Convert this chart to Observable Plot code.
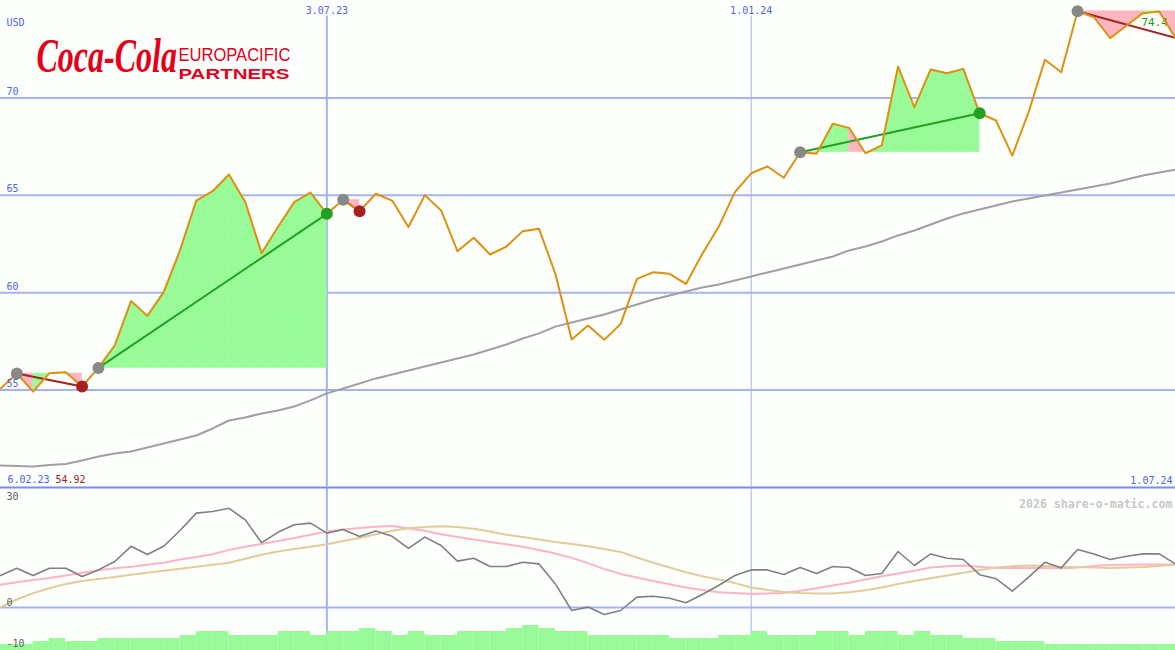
<!DOCTYPE html>
<html><head><meta charset="utf-8">
<script src="https://cdn.jsdelivr.net/npm/d3@7"></script>
<script src="https://cdn.jsdelivr.net/npm/@observablehq/plot@0.6"></script>
<style>
html,body{margin:0;padding:0;background:#fcfffc;overflow:hidden}
#chart{position:relative;width:1175px;height:650px;background:#fcfffc}
#chart svg{position:absolute;left:0}
</style></head><body><div id="chart"></div>
<script>
// ---- data ----
const weekStrings = [
"2023-02-13","2023-02-20","2023-02-27","2023-03-06","2023-03-13","2023-03-20","2023-03-27","2023-04-03","2023-04-10","2023-04-17",
"2023-04-24","2023-05-01","2023-05-08","2023-05-15","2023-05-22","2023-05-29","2023-06-05","2023-06-12","2023-06-19","2023-06-26",
"2023-07-03","2023-07-10","2023-07-17","2023-07-24","2023-07-31","2023-08-07","2023-08-14","2023-08-21","2023-08-28","2023-09-04",
"2023-09-11","2023-09-18","2023-09-25","2023-10-02","2023-10-09","2023-10-16","2023-10-23","2023-10-30","2023-11-06","2023-11-13",
"2023-11-20","2023-11-27","2023-12-04","2023-12-11","2023-12-18","2023-12-25","2024-01-01","2024-01-08","2024-01-15","2024-01-22",
"2024-01-29","2024-02-05","2024-02-12","2024-02-19","2024-02-26","2024-03-04","2024-03-11","2024-03-18","2024-03-25","2024-04-01",
"2024-04-08","2024-04-15","2024-04-22","2024-04-29","2024-05-06","2024-05-13","2024-05-20","2024-05-27","2024-06-03","2024-06-10",
"2024-06-17","2024-06-24","2024-07-01"];
const price = [55.08,55.85,54.92,55.87,55.92,55.19,56.14,57.29,59.57,58.81,
60.03,62.17,64.73,65.21,66.07,64.65,62.03,63.37,64.65,65.14,
64.05,64.77,64.18,65.08,64.73,63.37,65.01,64.22,62.13,62.82,
61.96,62.37,63.16,63.28,60.97,57.60,58.32,57.58,58.40,60.71,
61.05,60.97,60.45,61.99,63.37,65.16,66.13,66.48,65.90,67.21,
67.13,68.67,68.46,67.16,67.56,71.61,69.52,71.46,71.27,71.49,
69.21,68.84,67.04,69.27,71.96,71.32,74.45,74.14,73.07,73.72,
74.35,74.44,73.08];
const movingAvg = [51.13,51.10,51.08,51.15,51.21,51.39,51.59,51.75,51.85,52.05,
52.26,52.46,52.67,53.03,53.44,53.59,53.80,53.95,54.16,54.47,
54.83,55.08,55.34,55.60,55.80,56.01,56.21,56.42,56.62,56.83,
57.08,57.34,57.65,57.91,58.26,58.47,58.68,58.88,59.14,59.39,
59.65,59.86,60.06,60.27,60.42,60.63,60.83,61.04,61.24,61.45,
61.65,61.86,62.17,62.37,62.63,62.94,63.19,63.50,63.81,64.07,
64.27,64.48,64.68,64.84,64.99,65.14,65.30,65.45,65.61,65.81,
66.02,66.17,66.32];
const oscillator = [8.0,9.8,8.0,9.8,9.8,7.75,9.4,11.5,15.3,13.25,
15.3,19.25,23.6,24.0,24.8,21.9,16.2,18.8,20.7,21.1,
18.6,19.5,17.75,19.1,17.8,14.8,17.6,15.5,11.6,12.3,
10.25,10.25,11.3,10.9,5.9,-0.75,0.1,-1.75,-0.75,2.6,
2.8,2.3,1.2,3.25,5.5,8.0,9.4,9.4,8.25,10.0,
8.5,10.25,10.0,8.0,8.5,14.0,10.5,13.4,12.3,12.0,
8.2,7.2,4.1,7.6,11.3,9.9,14.5,13.4,12.0,12.8,
13.4,13.4,10.9];
const signalFast = [5.7,6.3,6.9,7.4,8.0,8.7,9.3,9.8,10.2,10.7,
11.2,12.0,12.6,13.3,14.4,15.2,15.9,16.6,17.4,18.2,
19.0,19.5,19.9,20.2,20.4,19.8,19.2,18.3,17.6,17.0,
16.4,15.8,15.2,14.4,13.5,12.4,11.1,9.6,8.4,7.5,
6.6,5.8,5.0,4.4,3.8,3.6,3.4,3.5,3.6,4.2,
4.8,5.5,6.2,7.0,7.8,8.5,9.2,10.0,10.3,10.5,
10.2,9.9,9.9,9.9,9.9,9.8,10.0,10.4,10.6,10.7,
10.75,10.75,10.75];
const signalSlow = [0.1,2.0,3.6,4.8,5.9,6.6,7.1,7.6,8.2,8.7,
9.2,9.7,10.2,10.7,11.2,12.2,13.2,14.0,14.6,15.2,
15.8,16.6,17.4,18.3,19.2,19.8,20.1,20.3,20.1,19.7,
19.0,18.2,17.6,17.0,16.4,15.9,15.3,14.6,13.9,12.5,
11.2,10.0,8.8,7.8,7.0,6.1,5.0,4.4,3.9,3.6,
3.5,3.5,3.8,4.3,5.0,5.9,6.6,7.3,8.0,8.7,
9.4,10.0,10.3,10.5,10.4,10.2,10.1,10.0,9.9,10.0,
10.1,10.4,10.75];
const volume = [1.5,1.5,2.25,3.0,2.25,2.25,3.0,3.0,3.0,3.0,
3.0,3.75,4.75,4.75,3.75,3.75,3.75,4.75,4.75,3.75,
4.75,4.75,5.5,4.75,3.75,4.75,3.75,3.75,4.75,4.75,
4.75,5.5,6.25,5.5,4.75,4.75,3.75,3.75,3.75,3.75,
3.75,3.0,3.0,3.0,3.75,3.75,4.75,3.75,3.75,3.75,
4.75,4.75,3.75,4.75,4.75,3.75,4.75,3.75,3.75,3.0,
3.0,2.25,2.25,2.25,1.5,1.5,1.5,1.5,1.5,1.5,
1.5,1.5];
const yTicks = [55, 60, 65, 70];
const xTickStrings = ["2023-07-03", "2024-01-01"];
const xTickLabels = ["3.07.23", "1.01.24"];
const lowerTicks = [30, 0, -10];
const patterns = [
  {start: 1, end: 5, dir: "down", open: false},
  {start: 6, end: 20, dir: "up", open: false},
  {start: 21, end: 22, dir: "down", open: false},
  {start: 49, end: 60, dir: "up", open: false},
  {start: 66, end: 72, dir: "down", open: true}
];
const pinkIntervals = [1, 4, 21, 49, 52, 66, 67, 68, 69, 71];
const unitLabel = "USD";
const startLabel = "6.02.23";
const lowLabel = "54.92";
const endLabel = "1.07.24";
const highLabel = "74.4";
const credit = "2026 share-o-matic.com";
const logoText = ["Coca-Cola", "EUROPACIFIC", "PARTNERS"];

// ---- build ----
const weeks = weekStrings.map(s => new Date(s));
const xTicks = xTickStrings.map(s => new Date(s));
const rows = weeks.map((d, i) => ({date: d, price: price[i], ma: movingAvg[i], osc: oscillator[i], fast: signalFast[i], slow: signalSlow[i]}));
const fillRows = [];
patterns.forEach(p => {
  const level = price[p.start];
  for (let i = p.start; i < p.end; i++) {
    const dir = pinkIntervals.includes(i) ? "down" : "up";
    fillRows.push({x: weeks[i], lo: level, hi: price[i], seg: i, dir});
    fillRows.push({x: weeks[i + 1], lo: level, hi: price[i + 1], seg: i, dir});
  }
});
const volRows = volume.map((v, i) => ({x1: weeks[i], x2: weeks[i + 1], v}));
const BASE = -10.75;

const BLUE = "#4f63ee", GRID = "#a4b4f2", RED = "#e4001b";
const xScale = {type: "utc", domain: [weeks[0], weeks[weeks.length - 1]], axis: null};
const mono = "DejaVu Sans Mono";

const topPlot = Plot.plot({
  width: 1175, height: 487, marginTop: 0, marginBottom: 0, marginLeft: 0, marginRight: 0,
  x: xScale,
  y: {domain: [50, 75], axis: null},
  color: {domain: ["up", "down"], range: ["#98fb98", "#ffb6c1"]},
  style: {background: "transparent", fontFamily: mono, fontSize: "10px", overflow: "visible"},
  marks: [
    Plot.ruleY(yTicks, {stroke: GRID, strokeWidth: 2}),
    Plot.ruleX([xTicks[0]], {y1: 74.2, y2: 50, stroke: GRID, strokeWidth: 2}),
    Plot.ruleX([xTicks[1]], {y1: 74.2, y2: 50, stroke: GRID, strokeWidth: 1}),
    Plot.line(rows, {x: "date", y: "ma", stroke: "#a0a0a0", strokeWidth: 2}),
    Plot.areaY(fillRows, {x: "x", y1: "lo", y2: "hi", z: "seg", fill: "dir", stroke: "dir", strokeWidth: 0.5}),
    Plot.text([highLabel], {frameAnchor: "top-right", dx: -34, dy: 25, textAnchor: "start", lineAnchor: "bottom", fill: "#229922", fontSize: 11}),
    Plot.link(patterns.filter(p => p.dir === "up"), {x1: p => weeks[p.start], y1: p => price[p.start], x2: p => weeks[p.end], y2: p => price[p.end], stroke: "#22a022", strokeWidth: 2}),
    Plot.link(patterns.filter(p => p.dir === "down"), {x1: p => weeks[p.start], y1: p => price[p.start], x2: p => weeks[p.end], y2: p => price[p.end], stroke: "#a82020", strokeWidth: 2}),
    Plot.line(rows, {x: "date", y: "price", stroke: "#e09010", strokeWidth: 2}),
    Plot.dot(patterns, {x: p => weeks[p.start], y: p => price[p.start], r: 6, fill: "#888888"}),
    Plot.dot(patterns.filter(p => !p.open && p.dir === "up"), {x: p => weeks[p.end], y: p => price[p.end], r: 6, fill: "#22a022"}),
    Plot.dot(patterns.filter(p => !p.open && p.dir === "down"), {x: p => weeks[p.end], y: p => price[p.end], r: 6, fill: "#a82020"}),
    Plot.text(yTicks, {x: () => weeks[0], y: d => d, text: d => String(d), dx: 6, dy: -3, textAnchor: "start", lineAnchor: "bottom", fill: BLUE}),
    Plot.text([unitLabel], {frameAnchor: "top-left", dx: 6, dy: 25, textAnchor: "start", lineAnchor: "bottom", fill: BLUE}),
    Plot.text(xTicks, {x: d => d, text: (d, i) => xTickLabels[i], frameAnchor: "top", dy: 13, lineAnchor: "bottom", fill: BLUE}),
    Plot.text([startLabel], {frameAnchor: "bottom-left", dx: 7, dy: -5, textAnchor: "start", lineAnchor: "bottom", fill: BLUE}),
    Plot.text([lowLabel], {frameAnchor: "bottom-left", dx: 55, dy: -5, textAnchor: "start", lineAnchor: "bottom", fill: "#a82020"}),
    Plot.text([endLabel], {frameAnchor: "bottom-right", dx: -3, dy: -4, textAnchor: "end", lineAnchor: "bottom", fill: BLUE}),
    Plot.text([logoText[0]], {frameAnchor: "top-left", dx: 36, dy: 71, textAnchor: "start", lineAnchor: "bottom", fill: RED, fontFamily: "Liberation Serif", fontStyle: "italic", fontWeight: "bold", fontSize: 32}),
    Plot.text([logoText[1]], {frameAnchor: "top-left", dx: 178, dy: 60, textAnchor: "start", lineAnchor: "bottom", fill: RED, fontFamily: "Liberation Sans", fontSize: 18}),
    Plot.text([logoText[2]], {frameAnchor: "top-left", dx: 178, dy: 78, textAnchor: "start", lineAnchor: "bottom", fill: RED, fontFamily: "Liberation Sans", fontWeight: "bold", fontSize: 15.5})
  ]
});

const lowerOffsets = {"30": 12, "0": -2, "-10": -1};
const bottomPlot = Plot.plot({
  width: 1175, height: 170, marginTop: 7, marginBottom: 0, marginLeft: 0, marginRight: 0,
  x: xScale,
  y: {domain: [BASE, 30], axis: null},
  style: {background: "transparent", fontFamily: mono, fontSize: "10px", overflow: "visible"},
  marks: [
    Plot.ruleX([xTicks[0]], {y1: 30, y2: BASE, stroke: GRID, strokeWidth: 2}),
    Plot.ruleX([xTicks[1]], {y1: 30, y2: BASE, stroke: GRID, strokeWidth: 1}),
    Plot.ruleY([0], {stroke: GRID, strokeWidth: 2}),
    Plot.ruleY([30], {stroke: "#7b8be8", strokeWidth: 2}),
    Plot.rect(volRows, {x1: "x1", x2: "x2", y1: () => BASE, y2: d => BASE + d.v, fill: "#98fb98"}),
    Plot.line(rows, {x: "date", y: "fast", stroke: "#ffb3c6", strokeWidth: 2}),
    Plot.line(rows, {x: "date", y: "slow", stroke: "#e2cb9c", strokeWidth: 2}),
    Plot.line(rows, {x: "date", y: "osc", stroke: "#808080", strokeWidth: 1.6}),
    ...lowerTicks.map(t => Plot.text([t], {x: () => weeks[0], y: d => d, text: d => String(d), dx: 6, dy: lowerOffsets[String(t)], textAnchor: "start", lineAnchor: "bottom", fill: "#606060"})),
    Plot.text([credit], {frameAnchor: "top-right", dx: -3, dy: 20, textAnchor: "end", lineAnchor: "bottom", fill: "#c8c8c8", fontWeight: "bold", fontSize: 11.6})
  ]
});

// logo styling: stretch words to the logo's proportions
function stretch(el, sx, sy) {
  const x = +(el.getAttribute("x") || 0), y = +(el.getAttribute("y") || 0);
  const t = el.getAttribute("transform") || "";
  el.removeAttribute("x"); el.removeAttribute("y");
  el.setAttribute("transform", `${t} translate(${x},${y}) scale(${sx},${sy})`);
}
const logoScale = {"Coca-Cola": [1, 1.5], "EUROPACIFIC": [0.92, 1], "PARTNERS": [1.32, 1]};
d3.select(topPlot).selectAll("text").each(function() {
  const s = logoScale[this.textContent];
  if (s) stretch(this, s[0], s[1]);
});

const chart = document.getElementById("chart");
bottomPlot.style.top = "480px";
topPlot.style.top = "0px";
chart.appendChild(bottomPlot);
chart.appendChild(topPlot);
</script></body></html>
